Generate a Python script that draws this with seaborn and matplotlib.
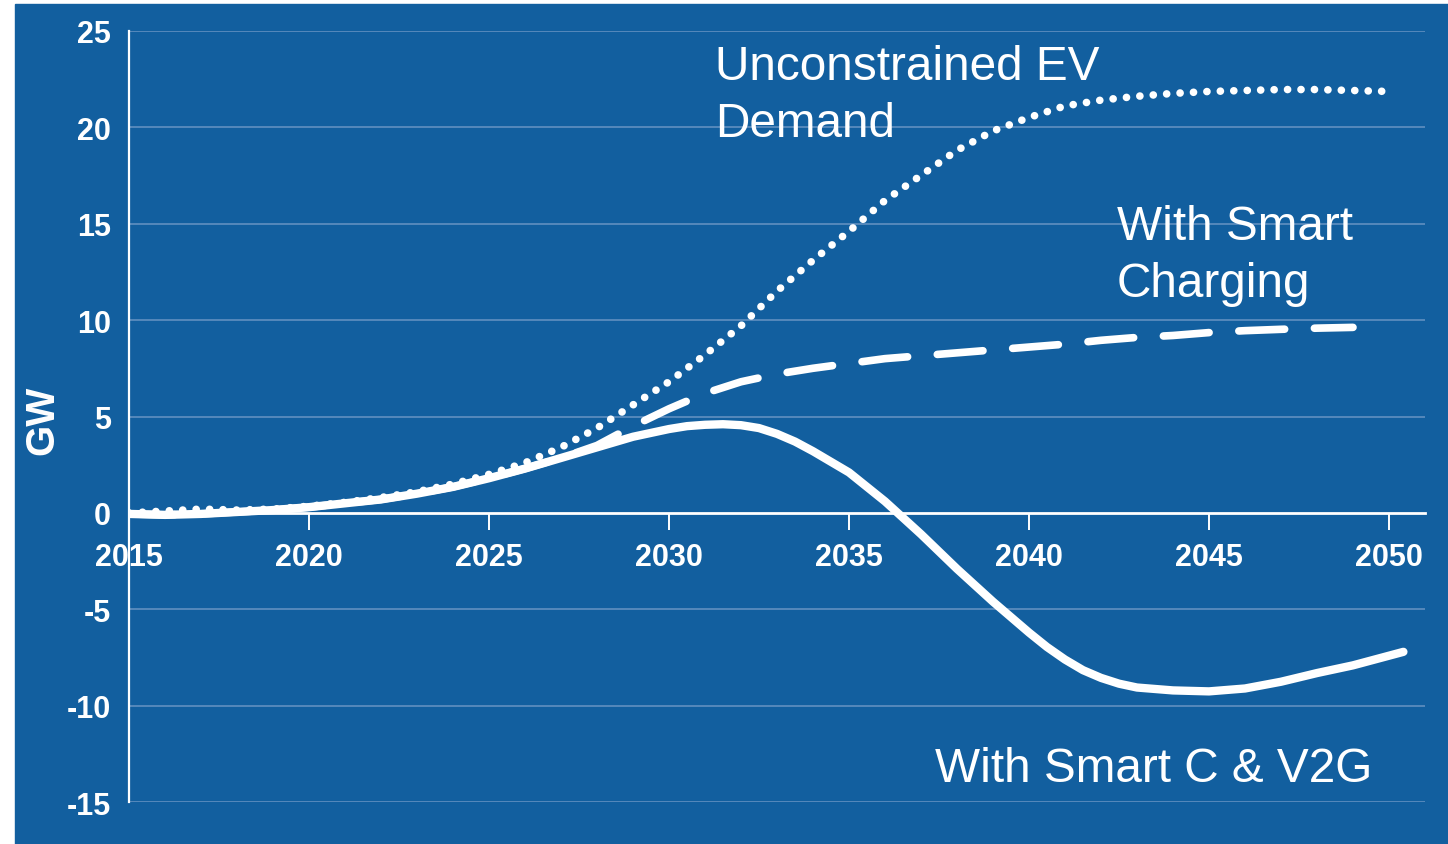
import numpy as np
import pandas as pd
import matplotlib.pyplot as plt
import matplotlib.patches as mpatches
import seaborn as sns

years = list(range(2015, 2051))
unconstrained = [0.0, 0.1, 0.2, 0.15, 0.2, 0.35, 0.55, 0.8, 1.1, 1.5,
                 2.0, 2.6, 3.4, 4.4, 5.6, 6.8, 8.2, 9.7, 11.5, 13.1,
                 14.6, 16.2, 17.5, 18.8, 19.8, 20.5, 21.1, 21.4, 21.6, 21.75,
                 21.85, 21.9, 21.95, 21.95, 21.9, 21.85]
smart_years = list(range(2015, 2050))
smart = [-0.05, -0.1, -0.05, 0.05, 0.15, 0.3, 0.5, 0.7, 1.0, 1.35,
         1.8, 2.3, 2.85, 3.5, 4.5, 5.4, 6.2, 6.8, 7.2, 7.5,
         7.75, 8.0, 8.15, 8.3, 8.45, 8.6, 8.75, 8.95, 9.1, 9.2,
         9.35, 9.45, 9.52, 9.58, 9.62]
v2g_years = [2015, 2016, 2017, 2018, 2019, 2020, 2021, 2022, 2023, 2024,
             2025, 2026, 2027, 2028, 2029, 2030, 2030.5, 2031, 2031.5, 2032,
             2032.5, 2033, 2033.5, 2034, 2035, 2036, 2037, 2038, 2039, 2040,
             2040.5, 2041, 2041.5, 2042, 2042.5, 2043, 2044, 2045, 2046, 2047,
             2048, 2049, 2050, 2050.4]
v2g = [-0.05, -0.1, -0.05, 0.05, 0.15, 0.3, 0.5, 0.7, 1.0, 1.35,
       1.8, 2.3, 2.85, 3.4, 3.95, 4.35, 4.5, 4.57, 4.6, 4.55,
       4.4, 4.1, 3.7, 3.2, 2.1, 0.6, -1.1, -2.9, -4.6, -6.2,
       -6.95, -7.6, -8.15, -8.55, -8.85, -9.05, -9.2, -9.25, -9.1, -8.75,
       -8.3, -7.9, -7.4, -7.2]
yticks = [-15, -10, -5, 0, 5, 10, 15, 20, 25]
xticks = [2015, 2020, 2025, 2030, 2035, 2040, 2045, 2050]

blue = "#125f9f"
grid_col = "#5b8cbe"

sns.set_style("white")
plt.rcParams["font.family"] = ["Liberation Sans", "DejaVu Sans"]
plt.rcParams["axes.unicode_minus"] = False

fig = plt.figure(figsize=(14.48, 8.45), dpi=100, facecolor="white")
fig.patches.append(mpatches.Rectangle((15 / 1448, 0), 1, 1 - 5 / 845,
                                      transform=fig.transFigure, color=blue, zorder=-10))
ax = fig.add_axes([129 / 1448, 41.7 / 845, 1296 / 1448, 771.6 / 845])
ax.set_facecolor(blue)

for v in yticks:
    if v != 0:
        ax.axhline(v, color=grid_col, lw=1.3, zorder=1)

sns.lineplot(x=years, y=unconstrained, ax=ax, color="white", lw=5.5,
             linestyle=(0, (0.01, 1.75)), dash_capstyle="round", zorder=4)
sns.lineplot(x=smart_years, y=smart, ax=ax, color="white", lw=5.5,
             linestyle=(0, (6, 3.9)), dash_capstyle="round",
             dash_joinstyle="round", zorder=4)
sns.lineplot(x=v2g_years, y=v2g, ax=ax, color="white", lw=6,
             solid_capstyle="round", solid_joinstyle="round", zorder=5)

ax.set_xlim(2015, 2051)
ax.set_ylim(-15, 25)
ax.set_xticks(xticks)
ax.set_yticks(yticks)

for s in ["top", "right"]:
    ax.spines[s].set_visible(False)
ax.spines["bottom"].set_position(("data", 0))
ax.spines["bottom"].set_color("white")
ax.spines["bottom"].set_linewidth(2)
ax.spines["left"].set_color("white")
ax.spines["left"].set_linewidth(1.6)

ax.tick_params(axis="x", direction="out", length=12, width=1.4, color="white",
               pad=9, labelsize=22, labelcolor="white", bottom=True)
ax.tick_params(axis="y", length=0, pad=13, labelsize=22, labelcolor="white", left=True)
for lab in ax.get_xticklabels() + ax.get_yticklabels():
    lab.set_fontweight("bold")

ax.set_xlabel("")
ax.set_ylabel("")
fig.text(42 / 1448, 1 - 420 / 845, "GW", rotation=90, color="white", fontsize=29,
         fontweight="bold", ha="center", va="center")

ax.text(2031.28, 24.3, "Unconstrained EV\nDemand", color="white", fontsize=34.4,
        ha="left", va="top", linespacing=1.33)
ax.text(2042.44, 16.0, "With Smart\nCharging", color="white", fontsize=34.4,
        ha="left", va="top", linespacing=1.33)
ax.text(2037.39, -12.1, "With Smart C & V2G", color="white", fontsize=34.4,
        ha="left", va="top")

fig.savefig("out.png", dpi=100, facecolor=fig.get_facecolor())
